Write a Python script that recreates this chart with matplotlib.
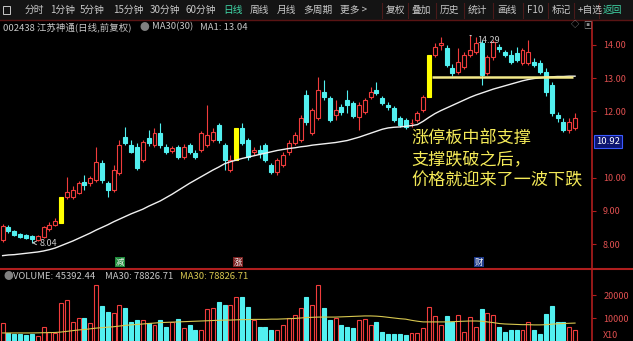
import matplotlib
matplotlib.use("Agg")
import matplotlib.pyplot as plt
from matplotlib.lines import Line2D
from matplotlib.patches import Rectangle

plt.rcParams['font.family'] = ['Noto Sans CJK SC', 'DejaVu Sans']

# ================= DATA =================

opens = [8.12, 8.51, 8.39, 8.30, 8.27, 8.24, 8.12, 8.21, 8.45, 8.57,
         8.63, 9.42, 9.42, 9.54, 9.87, 9.84, 9.93, 10.44, 9.84, 9.63,
         10.14, 11.23, 10.98, 10.92, 10.53, 11.20, 10.98, 11.35, 10.92, 10.80,
         10.92, 10.62, 10.98, 10.74, 10.83, 10.98, 11.14, 11.59, 10.98, 10.23,
         10.53, 11.50, 11.14, 10.77, 10.83, 10.98, 10.38, 10.17, 10.38, 10.77,
         11.05, 11.14, 12.49, 11.35, 11.80, 12.58, 12.40, 11.89, 12.13, 12.34,
         12.25, 11.83, 11.98, 12.43, 12.64, 12.40, 12.19, 12.10, 11.80, 11.74,
         11.64, 11.74, 12.04, 12.43, 13.70, 14.00, 13.91, 13.31, 13.19, 13.34,
         13.70, 13.79, 14.06, 13.16, 13.64, 13.94, 13.79, 13.70, 13.76, 13.46,
         13.46, 13.49, 13.46, 13.19, 12.79, 11.89, 11.68, 11.44, 11.50]

highs = [8.60, 8.57, 8.42, 8.33, 8.30, 8.27, 8.27, 8.54, 8.66, 8.78,
         9.42, 10.02, 9.75, 9.90, 10.08, 10.05, 10.92, 10.53, 9.90, 10.38,
         11.14, 11.53, 11.14, 11.05, 11.14, 11.44, 11.50, 11.65, 11.02, 10.95,
         10.98, 11.02, 11.05, 10.83, 11.41, 12.19, 11.50, 11.65, 11.05, 10.68,
         11.50, 11.65, 11.20, 10.92, 10.98, 11.05, 10.44, 10.59, 10.77, 11.14,
         11.38, 11.89, 12.64, 12.10, 13.04, 12.94, 12.46, 12.34, 12.22, 12.64,
         12.31, 12.28, 12.40, 12.73, 12.88, 12.46, 12.28, 12.16, 11.86, 11.80,
         11.77, 12.01, 12.49, 13.70, 14.06, 14.24, 14.00, 13.43, 13.91, 13.79,
         14.29, 14.24, 14.15, 13.70, 14.15, 14.03, 13.85, 13.85, 13.94, 13.91,
         14.15, 13.61, 13.55, 13.31, 12.88, 11.98, 11.80, 11.80, 11.95]

lows = [8.06, 8.33, 8.24, 8.18, 8.15, 8.04, 8.09, 8.18, 8.39, 8.54,
        8.63, 9.36, 9.36, 9.50, 9.63, 9.75, 9.87, 9.84, 9.42, 9.57,
        10.08, 10.98, 10.74, 10.23, 10.47, 10.95, 10.92, 10.89, 10.71, 10.74,
        10.56, 10.56, 10.71, 10.56, 10.77, 10.92, 11.08, 11.05, 10.23, 10.17,
        10.53, 10.98, 10.53, 10.68, 10.59, 10.47, 10.11, 10.08, 10.32, 10.68,
        10.98, 11.08, 11.59, 11.29, 11.74, 12.34, 11.68, 11.74, 11.89, 11.95,
        11.80, 11.44, 11.92, 12.37, 12.49, 12.19, 12.04, 11.68, 11.53, 11.47,
        11.53, 11.68, 11.98, 12.43, 13.64, 13.85, 13.34, 13.07, 13.13, 13.28,
        13.64, 13.73, 12.79, 13.10, 13.55, 13.79, 13.64, 13.43, 13.49, 13.40,
        13.40, 13.34, 13.13, 12.46, 11.86, 11.68, 11.38, 11.35, 11.44]

closes = [8.54, 8.39, 8.27, 8.21, 8.18, 8.15, 8.24, 8.51, 8.57, 8.69,
          9.42, 9.57, 9.63, 9.84, 9.78, 9.99, 10.47, 9.93, 9.63, 10.23,
          10.98, 11.05, 10.77, 10.29, 11.08, 11.05, 11.35, 10.98, 10.77, 10.89,
          10.62, 10.92, 10.77, 10.62, 11.35, 11.29, 11.38, 11.14, 10.53, 10.53,
          11.50, 11.05, 10.62, 10.83, 10.74, 10.53, 10.17, 10.53, 10.68, 11.05,
          11.29, 11.80, 11.68, 12.04, 12.64, 12.43, 11.74, 12.04, 11.98, 12.19,
          11.86, 12.19, 12.34, 12.58, 12.55, 12.25, 12.13, 11.74, 11.59, 11.53,
          11.66, 11.95, 12.43, 13.70, 13.94, 14.06, 13.40, 13.16, 13.49, 13.70,
          13.85, 14.06, 13.10, 13.64, 14.09, 13.88, 13.70, 13.49, 13.55, 13.85,
          13.79, 13.40, 13.19, 12.58, 11.95, 11.80, 11.44, 11.68, 11.80]

limit_up = [10, 40, 73]

ma30 = [7.65, 7.67, 7.68, 7.70, 7.72, 7.74, 7.76, 7.79, 7.83, 7.88,
        7.95, 8.02, 8.09, 8.17, 8.25, 8.33, 8.42, 8.50, 8.58, 8.67,
        8.75, 8.83, 8.91, 8.98, 9.05, 9.14, 9.22, 9.30, 9.40, 9.50,
        9.61, 9.72, 9.83, 9.93, 10.03, 10.13, 10.23, 10.32, 10.42, 10.48,
        10.53, 10.58, 10.62, 10.66, 10.70, 10.74, 10.78, 10.82, 10.85, 10.88,
        10.90, 10.93, 10.95, 10.98, 11.00, 11.02, 11.04, 11.06, 11.09, 11.12,
        11.17, 11.22, 11.28, 11.34, 11.40, 11.46, 11.50, 11.52, 11.53, 11.55,
        11.57, 11.60, 11.70, 11.82, 11.93, 12.02, 12.10, 12.18, 12.26, 12.34,
        12.42, 12.49, 12.55, 12.61, 12.67, 12.72, 12.77, 12.82, 12.87, 12.92,
        12.96, 12.99, 13.01, 13.03, 13.04, 13.05, 13.05, 13.06, 13.06]

volumes = [7800, 3500, 3000, 3000, 2600, 3000, 2200, 6100, 4000, 3500,
           16500, 17800, 8300, 10000, 10000, 7800, 24300, 15200, 12600, 12200,
           15600, 14300, 8300, 9100, 9100, 8000, 7000, 9100, 6100, 8300,
           9500, 5600, 7000, 5000, 5000, 13900, 14300, 17000, 15600, 15600,
           19100, 19100, 14800, 9100, 6100, 6100, 5000, 5000, 7000, 10000,
           11300, 14300, 19100, 15600, 24300, 14300, 9100, 10000, 7000, 6100,
           5600, 9100, 9500, 7000, 8300, 4100, 2900, 3000, 3000, 2600,
           3300, 3300, 5600, 14800, 10900, 7000, 10900, 8300, 11300, 4100,
           10400, 6100, 13900, 12200, 11300, 6100, 4100, 4600, 5000, 5000,
           8300, 5000, 3000, 11800, 15200, 8300, 8300, 6100, 5000]

vol_ma = [3500, 3500, 3500, 3500, 3500, 3500, 3550, 3600, 3650, 3700,
          3900, 4200, 4500, 4800, 5000, 5300, 5600, 5800, 6000, 6200,
          6500, 6800, 7000, 7200, 7400, 7600, 7800, 8000, 8100, 8200,
          8300, 8400, 8500, 8600, 8700, 8800, 8900, 9000, 9100, 9100,
          9200, 9300, 9300, 9400, 9400, 9400, 9500, 9500, 9600, 9700,
          9800, 10000, 10200, 10300, 10400, 10400, 10400, 10400, 10500, 10600,
          10700, 10800, 10900, 10900, 10800, 10600, 10300, 10000, 9700, 9500,
          9000, 8600, 8300, 8300, 8300, 8300, 8300, 8400, 8500, 8600,
          8700, 8700, 8600, 8300, 8000, 7600, 7400, 7300, 7200, 7100,
          7100, 7000, 7000, 7100, 7300, 7500, 7600, 7700, 7800]

price_ticks = [8, 9, 10, 12, 13, 14]
vol_ticks = [10000, 20000]
last_price = "10.92"
support_level = 13.04
high_price = 14.29
low_price = 8.04

menu_left = ["分时", "1分钟", "5分钟", "15分钟", "30分钟", "60分钟",
             "日线", "周线", "月线", "多周期", "更多 >"]
menu_right = ["复权", "叠加", "历史", "统计", "画线", "F10", "标记", "+自选", "返回"]

note_lines = ["涨停板中部支撑", "支撑跌破之后，", "价格就迎来了一波下跌"]

# ================= STYLE =================

W, H = 633, 341
RED = "#f03c3c"
CYAN = "#52f0f0"
YELLOW = "#ffff00"
AXRED = "#b01e1e"
LABEL = "#e05050"
GREY = "#c8c8c8"


def fx(x):
    return x / W


def fy(y):
    return 1 - y / H


fig = plt.figure(figsize=(6.33, 3.41), dpi=100, facecolor="black")

ax = fig.add_axes([0, fy(268), fx(592), (268 - 22) / H])
axv = fig.add_axes([0, 0, fx(592), (341 - 270) / H])

n = len(closes)
xs = list(range(n))

for a in (ax, axv):
    a.set_facecolor("black")
    a.set_xlim(-0.45, 100.9)
    for s in ("left", "top", "bottom"):
        a.spines[s].set_visible(False)
    a.spines["right"].set_color(AXRED)
    a.spines["right"].set_linewidth(1.2)
    a.yaxis.tick_right()
    a.tick_params(axis="y", colors=AXRED, labelcolor=LABEL,
                  labelsize=6.5, length=3, pad=5)
    a.set_xticks([])

# ================= CANDLES =================

colors = []
for i in xs:
    if i in limit_up:
        colors.append(YELLOW)
    elif closes[i] >= opens[i]:
        colors.append(RED)
    else:
        colors.append(CYAN)

ax.vlines(xs, lows, highs, colors=colors, linewidth=0.8, zorder=2)

for i in xs:
    bottom = min(opens[i], closes[i])
    height = max(abs(closes[i] - opens[i]), 0.02)
    if colors[i] == RED:
        face = "black"
    else:
        face = colors[i]
    ax.bar(i, height, bottom=bottom, width=0.68, color=face,
           edgecolor=colors[i], linewidth=0.8, zorder=3)

ax.plot(xs, ma30, color="#f0f0f0", linewidth=1.0, zorder=4)

ax.hlines(support_level, 73.5, 97.7, color="#f3e98a",
          linewidth=1.8, zorder=5)

ax.set_ylim(7.277, 14.693)
ax.set_yticks(price_ticks)
ax.set_yticklabels([f"{t:.2f}" for t in price_ticks])

ax.annotate(f"{high_price:.2f}", xy=(80, high_price), xytext=(81.2, 14.15),
            color=GREY, fontsize=6.5, va="center",
            arrowprops=dict(arrowstyle="-", color=GREY, lw=0.7))
ax.annotate(f"{low_price:.2f}", xy=(5, low_price), xytext=(6.4, 8.02),
            color=GREY, fontsize=6.5, va="center",
            arrowprops=dict(arrowstyle="->", color=GREY, lw=0.7))

for k, line in enumerate(note_lines):
    fig.text(fx(411), fy(139 + 21 * k), line, color="#f4ea58",
             fontsize=12.3, va="center", ha="left")

# ================= VOLUME =================

for i in xs:
    c = RED if colors[i] in (RED, YELLOW) else CYAN
    face = "black" if c == RED else c
    axv.bar(i, volumes[i], width=0.68, color=face, edgecolor=c,
            linewidth=0.8, zorder=3)

axv.plot(xs, vol_ma, color="#d8c850", linewidth=0.8, zorder=4)
axv.set_ylim(0, 30870)
axv.set_yticks(vol_ticks)
axv.set_yticklabels([str(t) for t in vol_ticks])

# ================= FRAME / TEXT =================

fig.patches.append(Rectangle((0, fy(20)), 1, 20 / H, transform=fig.transFigure,
                             facecolor="#141414", edgecolor="none", zorder=0))
fig.lines.append(Line2D([0, 1], [fy(20), fy(20)], transform=fig.transFigure,
                        color="#5a1414", linewidth=1.0))
fig.lines.append(Line2D([0, 1], [fy(269), fy(269)], transform=fig.transFigure,
                        color=AXRED, linewidth=1.5))

fig.patches.append(Rectangle((fx(3), fy(14)), fx(7), 8 / H,
                             transform=fig.transFigure, facecolor="none",
                             edgecolor=GREY, linewidth=0.7))

left_x = [25, 50, 80, 113, 150, 186, 223, 250, 277, 303, 340]
for label, x in zip(menu_left, left_x):
    c = "#40d8a8" if label == "日线" else GREY
    fig.text(fx(x), fy(10), label, color=c, fontsize=7, va="center")

right_x = [386, 412, 440, 468, 497, 527, 552, 578, 603]
for label, x in zip(menu_right, right_x):
    c = "#40d8a8" if label == "返回" else GREY
    fig.text(fx(x), fy(10), label, color=c, fontsize=7, va="center")
    fig.lines.append(Line2D([fx(x - 4), fx(x - 4)], [fy(3), fy(18)],
                            transform=fig.transFigure, color="#4a1a1a",
                            linewidth=0.8))

fig.text(fx(3), fy(27), "002438 江苏神通(日线,前复权)", color=GREY,
         fontsize=6.8, va="center")
fig.text(fx(139), fy(27), "●", color="#808080", fontsize=7, va="center")
fig.text(fx(152), fy(27), "MA30(30)", color=GREY, fontsize=6.8, va="center")
fig.text(fx(200), fy(27), "MA1: 13.04", color=GREY, fontsize=6.8, va="center")
fig.text(fx(571), fy(25), "◇", color="#909090", fontsize=6, va="center")
fig.text(fx(583), fy(25), "▣", color="#909090", fontsize=6, va="center")

fig.text(fx(596), fy(141.5), last_price, color="white", fontsize=6.8,
         va="center",
         bbox=dict(boxstyle="square,pad=0.2", facecolor="#0c1470",
                   edgecolor="#3a5aff", linewidth=0.8))

markers = [("减", 116, "#1e8a3a"), ("涨", 234, "#7a2020"), ("财", 475, "#1e3a8a")]
for label, x, bg in markers:
    fig.text(fx(x), fy(262), label, color="#f0f0f0", fontsize=6,
             va="center",
             bbox=dict(boxstyle="square,pad=0.1", facecolor=bg,
                       edgecolor="none"))

fig.text(fx(3), fy(276.5), "●", color="#808080", fontsize=7, va="center")
fig.text(fx(13), fy(276.5), "VOLUME: 45392.44", color=GREY, fontsize=6.8,
         va="center")
fig.text(fx(105), fy(276.5), "MA30: 78826.71", color=GREY, fontsize=6.8,
         va="center")
fig.text(fx(180), fy(276.5), "MA30: 78826.71", color="#d8c850", fontsize=6.8,
         va="center")
fig.text(fx(603), fy(335), "X10", color=LABEL, fontsize=6.5, va="center")

# ================= SAVE =================

fig.savefig("out.png", dpi=100, facecolor="black")

print("Saved out.png")
